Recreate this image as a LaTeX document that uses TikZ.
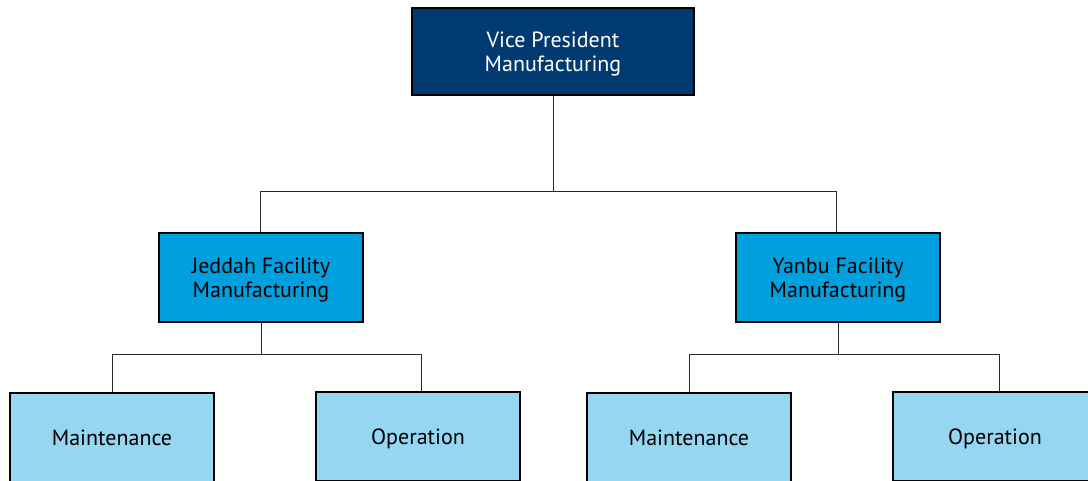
\documentclass[tikz,border=0pt]{standalone}
\usepackage{fontspec}
\setmainfont{PT Sans}
\definecolor{navy}{RGB}{0,58,112}
\definecolor{midblue}{RGB}{0,160,223}
\definecolor{lightblue}{RGB}{150,214,241}
\definecolor{linegray}{RGB}{40,40,40}
\newcommand{\boxlbl}[1]{\raisebox{0pt}[\dimexpr\height+6pt\relax][\depth]{\begin{tabular}{@{}c@{}}#1\end{tabular}}}
\begin{document}
\begin{tikzpicture}[x=1pt,y=-1pt,
  box/.style={draw=black,line width=1.3pt,minimum width=204pt,minimum height=89pt,inner sep=0pt,align=center,font=\fontsize{22}{24}\selectfont},
  top/.style={box,fill=navy,text=white,minimum width=282pt,minimum height=87pt},
  mid/.style={box,fill=midblue,text=black},
  low/.style={box,fill=lightblue,text=black},
  conn/.style={draw=linegray,line width=1pt}]
\useasboundingbox (0,0) rectangle (1088,480);
\clip (0,0) rectangle (1088,480);
\node[top] (vp) at (553,51.5) {\boxlbl{Vice President\\Manufacturing}};
\node[mid] (jed) at (261,277.5) {\boxlbl{Jeddah Facility\\Manufacturing}};
\node[mid] (yan) at (838,277.5) {\boxlbl{Yanbu Facility\\Manufacturing}};
\node[low] (m1) at (112,437.5) {\boxlbl{Maintenance}};
\node[low] (o1) at (418,436.5) {\boxlbl{Operation}};
\node[low] (m2) at (689,437.5) {\boxlbl{Maintenance}};
\node[low] (o2) at (995,436.5) {\boxlbl{Operation}};
\coordinate (vpj) at (553,191);
\coordinate (jj) at (261,354);
\coordinate (yj) at (838,354);
\draw[conn] (vp.south) -- (vpj) -| ([xshift=-1pt]jed.north);
\draw[conn] (vpj) -| ([xshift=-2pt]yan.north);
\draw[conn] (jed.south) -- (jj) -| (m1.north);
\draw[conn] (jj) -| ([xshift=3pt]o1.north);
\draw[conn] (yan.south) -- (yj) -| (m2.north);
\draw[conn] (yj) -| ([xshift=4pt]o2.north);
\end{tikzpicture}
\end{document}
